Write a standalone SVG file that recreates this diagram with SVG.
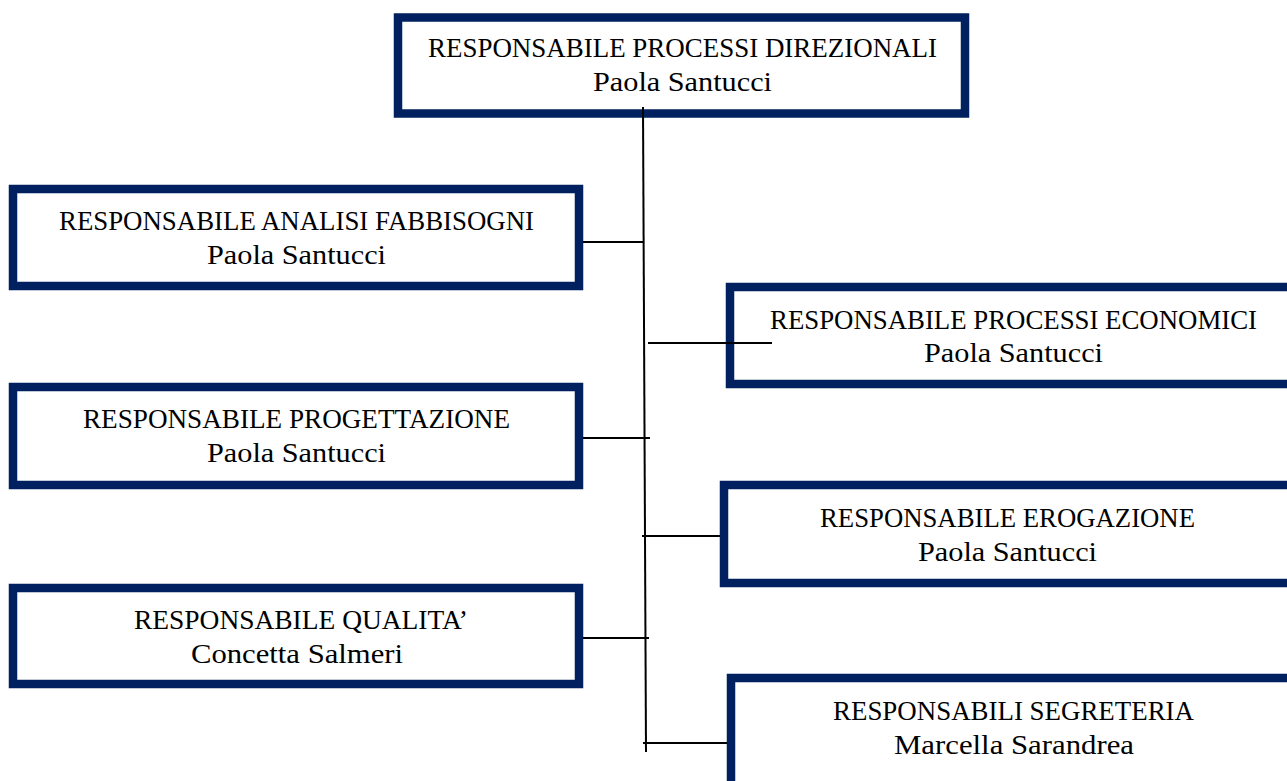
<svg xmlns="http://www.w3.org/2000/svg" width="1287" height="781" viewBox="0 0 1287 781">
<style>
.box{fill:#ffffff;stroke:#002060;stroke-width:8.5}
.t{font-family:"Liberation Serif","Times New Roman",serif;font-size:27px;fill:#000000;text-anchor:middle}
.c{stroke:#000000;stroke-width:2;fill:none}
</style>
<rect width="1287" height="781" fill="#ffffff"/>
<g id="node-direzionali">
<rect class="box" x="398" y="17.5" width="567" height="96"/>
<text class="t" x="682.5" y="57" textLength="509" lengthAdjust="spacingAndGlyphs">RESPONSABILE PROCESSI DIREZIONALI</text>
<text class="t" x="682.5" y="91" textLength="179" lengthAdjust="spacingAndGlyphs">Paola Santucci</text>
</g>
<g id="node-analisi">
<rect class="box" x="13" y="189" width="566" height="97"/>
<text class="t" x="296.5" y="230" textLength="475" lengthAdjust="spacingAndGlyphs">RESPONSABILE ANALISI FABBISOGNI</text>
<text class="t" x="296.5" y="264" textLength="179" lengthAdjust="spacingAndGlyphs">Paola Santucci</text>
</g>
<g id="node-economici">
<rect class="box" x="730" y="287" width="600" height="97"/>
<text class="t" x="1013.5" y="329" textLength="487" lengthAdjust="spacingAndGlyphs">RESPONSABILE PROCESSI ECONOMICI</text>
<text class="t" x="1013.5" y="362" textLength="179" lengthAdjust="spacingAndGlyphs">Paola Santucci</text>
</g>
<g id="node-progettazione">
<rect class="box" x="13" y="387" width="566" height="98"/>
<text class="t" x="296.5" y="428" textLength="427" lengthAdjust="spacingAndGlyphs">RESPONSABILE PROGETTAZIONE</text>
<text class="t" x="296.5" y="462" textLength="179" lengthAdjust="spacingAndGlyphs">Paola Santucci</text>
</g>
<g id="node-erogazione">
<rect class="box" x="724" y="485" width="600" height="98"/>
<text class="t" x="1007.5" y="527" textLength="375" lengthAdjust="spacingAndGlyphs">RESPONSABILE EROGAZIONE</text>
<text class="t" x="1007.5" y="561" textLength="179" lengthAdjust="spacingAndGlyphs">Paola Santucci</text>
</g>
<g id="node-qualita">
<rect class="box" x="13" y="588" width="566" height="96"/>
<text class="t" x="301" y="629" textLength="334" lengthAdjust="spacingAndGlyphs">RESPONSABILE QUALITA’</text>
<text class="t" x="297" y="663" textLength="212" lengthAdjust="spacingAndGlyphs">Concetta Salmeri</text>
</g>
<g id="node-segreteria">
<rect class="box" x="731" y="678" width="600" height="150"/>
<text class="t" x="1013.5" y="720" textLength="361" lengthAdjust="spacingAndGlyphs">RESPONSABILI SEGRETERIA</text>
<text class="t" x="1014" y="754" textLength="240" lengthAdjust="spacingAndGlyphs">Marcella Sarandrea</text>
</g>
<g id="connectors">
<line class="c" x1="643" y1="107" x2="646" y2="752"/>
<line class="c" x1="583" y1="242" x2="643" y2="242"/>
<line class="c" x1="648" y1="343" x2="772" y2="343"/>
<line class="c" x1="583" y1="438" x2="650" y2="438"/>
<line class="c" x1="642" y1="536" x2="720" y2="536"/>
<line class="c" x1="583" y1="638" x2="649" y2="638"/>
<line class="c" x1="643" y1="743" x2="727" y2="743"/>
</g>
</svg>
